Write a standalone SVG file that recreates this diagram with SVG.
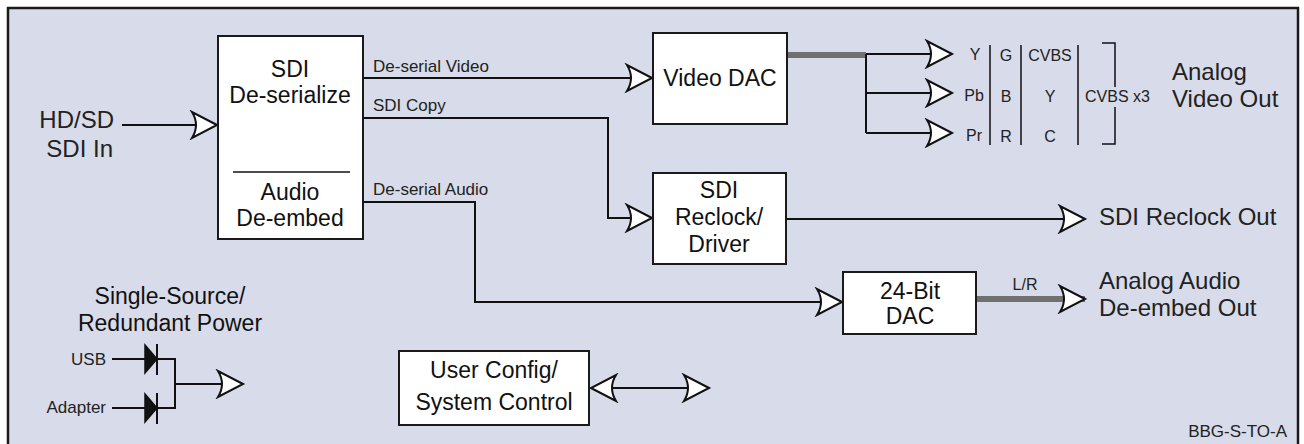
<svg xmlns="http://www.w3.org/2000/svg" width="1304" height="444" viewBox="0 0 1304 444">
<style>
.frame{fill:#d8dbe9;stroke:#1a1a1a;stroke-width:2.5}
.box{fill:#ffffff;stroke:#1a1a1a;stroke-width:2}
.ln{fill:none;stroke:#111;stroke-width:2}
.thin{fill:none;stroke:#111;stroke-width:1.5}
.gray{fill:none;stroke:#707070;stroke-width:6}
.bt{font-family:"Liberation Sans",Arial,sans-serif;font-size:23px;fill:#111;text-anchor:middle}
.lb{font-family:"Liberation Sans",Arial,sans-serif;fill:#222}
.sm{font-size:16px}
.md{font-size:17px}
.lg{font-size:24px}
</style>
<defs>
<marker id="arr" viewBox="-28 -15 31 30" refX="0" refY="0" markerWidth="31" markerHeight="30" markerUnits="userSpaceOnUse" orient="auto-start-reverse">
<path d="M0,0 L-25,-13 Q-17,0 -25,13 Z" fill="#fff" stroke="#111" stroke-width="2" stroke-linejoin="miter"/>
</marker>
</defs>
<rect class="frame" x="8" y="8" width="1290" height="440"/>

<g id="connectors">
<path class="ln" d="M122,125 H217" marker-end="url(#arr)"/>
<path class="ln" d="M363,78 H652" marker-end="url(#arr)"/>
<path class="ln" d="M363,118 H608 V218 H652" marker-end="url(#arr)"/>
<path class="ln" d="M363,202 H475 V302 H842" marker-end="url(#arr)"/>
<path class="gray" d="M787,55 H866"/>
<path class="ln" d="M866,54 V133"/>
<path class="ln" d="M866,54 H952" marker-end="url(#arr)"/>
<path class="ln" d="M866,93 H952" marker-end="url(#arr)"/>
<path class="ln" d="M866,133 H952" marker-end="url(#arr)"/>
<path class="ln" d="M786,219 H1085" marker-end="url(#arr)"/>
<path class="gray" d="M976,299 H1085" marker-end="url(#arr)"/>
<path class="ln" d="M591,388 H709" marker-start="url(#arr)" marker-end="url(#arr)"/>
<text class="lb md" x="373" y="72">De-serial Video</text>
<text class="lb md" x="373" y="111">SDI Copy</text>
<text class="lb md" x="373" y="195">De-serial Audio</text>
<text class="lb sm" x="1025" y="290" text-anchor="middle">L/R</text>
</g>

<g id="input">
<text class="lb" font-size="24" x="114" y="128" text-anchor="end">HD/SD</text>
<text class="lb" font-size="24" x="113" y="157" text-anchor="end">SDI In</text>
</g>

<g id="sdi-deserialize">
<rect class="box" x="218" y="36" width="145" height="203"/>
<path class="thin" d="M233,172 H350"/>
<text class="bt" x="290" y="77">SDI</text>
<text class="bt" x="290" y="103">De-serialize</text>
<text class="bt" x="290" y="200">Audio</text>
<text class="bt" x="290" y="226">De-embed</text>
</g>

<g id="video-dac">
<rect class="box" x="653" y="33" width="134" height="91"/>
<text class="bt" x="720" y="86" font-size="24">Video DAC</text>
</g>

<g id="analog-video-out">
<text class="lb sm" x="975" y="60" text-anchor="middle">Y</text>
<text class="lb sm" x="974" y="101" text-anchor="middle">Pb</text>
<text class="lb sm" x="974" y="141" text-anchor="middle">Pr</text>
<path class="thin" d="M990,45 V145 M1021,45 V145 M1078,45 V145"/>
<text class="lb sm" x="1006" y="61" text-anchor="middle">G</text>
<text class="lb sm" x="1006" y="102" text-anchor="middle">B</text>
<text class="lb sm" x="1006" y="142" text-anchor="middle">R</text>
<text class="lb sm" x="1050" y="61" text-anchor="middle">CVBS</text>
<text class="lb sm" x="1050" y="102" text-anchor="middle">Y</text>
<text class="lb sm" x="1050" y="142" text-anchor="middle">C</text>
<path class="thin" d="M1102,43 H1115 V87 M1115,107 V144 H1102"/>
<text class="lb sm" x="1085" y="102">CVBS x3</text>
<text class="lb lg" x="1172" y="80">Analog</text>
<text class="lb lg" x="1172" y="107">Video Out</text>
</g>

<g id="sdi-reclock">
<rect class="box" x="653" y="173" width="133" height="91"/>
<text class="bt" x="719" y="198" font-size="24">SDI</text>
<text class="bt" x="719" y="225" font-size="24">Reclock/</text>
<text class="bt" x="719" y="252" font-size="24">Driver</text>
</g>

<g id="sdi-reclock-out">
<text class="lb lg" x="1099" y="225">SDI Reclock Out</text>
</g>

<g id="audio-dac">
<rect class="box" x="843" y="272" width="133" height="62"/>
<text class="bt" x="910" y="299" font-size="22">24-Bit</text>
<text class="bt" x="910" y="324" font-size="22">DAC</text>
</g>

<g id="analog-audio-out">
<text class="lb lg" x="1099" y="289">Analog Audio</text>
<text class="lb lg" x="1099" y="316">De-embed Out</text>
</g>

<g id="user-config">
<rect class="box" x="399" y="351" width="190" height="74"/>
<text class="bt" x="494" y="378" font-size="24">User Config/</text>
<text class="bt" x="494" y="410" font-size="24">System Control</text>
</g>

<g id="power">
<text class="bt" x="170" y="304" font-size="24">Single-Source/</text>
<text class="bt" x="170" y="331" font-size="24">Redundant Power</text>
<text class="lb md" x="106" y="365" text-anchor="end">USB</text>
<text class="lb md" x="106" y="413" text-anchor="end">Adapter</text>
<path class="ln" d="M112,359 H145 M157,359 H175 V408 H157 M112,408 H145"/>
<path d="M145,345 L157,359 L145,373 Z" fill="#111" stroke="#111" stroke-width="1.5"/>
<path d="M145,394 L157,408 L145,422 Z" fill="#111" stroke="#111" stroke-width="1.5"/>
<path class="ln" stroke-width="2.5" d="M157,344 V375 M157,393 V424"/>
<path class="ln" d="M175,384 H243" marker-end="url(#arr)"/>
</g>

<text class="lb md" x="1287" y="437" text-anchor="end">BBG-S-TO-A</text>
</svg>
